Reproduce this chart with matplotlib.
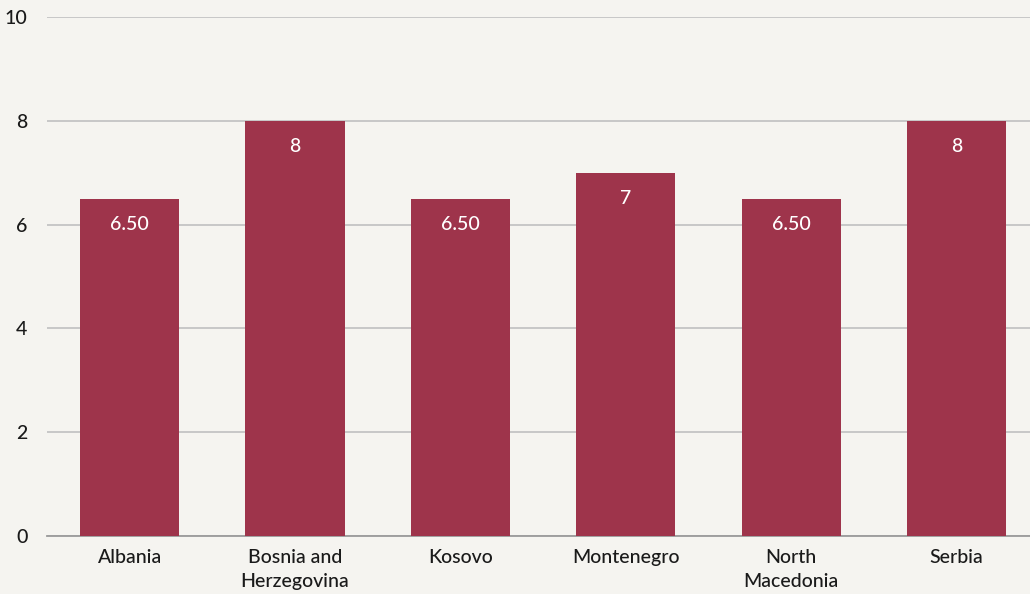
import matplotlib
matplotlib.use("Agg")
from matplotlib import pyplot as plt

countries = ["Albania", "Bosnia and\nHerzegovina", "Kosovo", "Montenegro", "North\nMacedonia", "Serbia"]
scores = [6.5, 8, 6.5, 7, 6.5, 8]
score_labels = ["6.50", "8", "6.50", "7", "6.50", "8"]

bg = "#f5f4f0"
bar_color = "#9e344b"

plt.rcParams["font.family"] = ["Lato", "DejaVu Sans"]
plt.rcParams["font.weight"] = "medium"

fig = plt.figure(figsize=(10.3, 5.94), dpi=100)
fig.patch.set_facecolor(bg)
ax = fig.add_axes([0.0456, 0.0976, 0.9635, 0.8738])
ax.set_facecolor(bg)

x = list(range(len(countries)))
bars = ax.bar(x, scores, width=0.6, color=bar_color, zorder=3)

for xi, val, lab in zip(x, scores, score_labels):
    ax.text(xi, val - 0.5, lab, ha="center", va="center", color="white", fontsize=14, zorder=4)

ax.set_xlim(-0.5, 5.5)
ax.set_ylim(0, 10)
ax.set_yticks([0, 2, 4, 6, 8, 10])
ax.set_xticks(x)
ax.set_xticklabels(countries, fontsize=14, color="#1a1a1a", linespacing=1.5)
ax.tick_params(axis="y", labelsize=14, labelcolor="#1a1a1a", length=0, pad=14)
ax.tick_params(axis="x", length=0, pad=9)
for lab in ax.get_xticklabels():
    lab.set_verticalalignment("top")

ax.yaxis.grid(True, color="#c4c4c4", linewidth=1.3, zorder=0)
ax.set_axisbelow(True)
for s in ["top", "right", "left"]:
    ax.spines[s].set_visible(False)
ax.spines["bottom"].set_color("#9a9a9a")
ax.spines["bottom"].set_linewidth(1.3)

plt.savefig("out.png", dpi=100, facecolor=bg)
